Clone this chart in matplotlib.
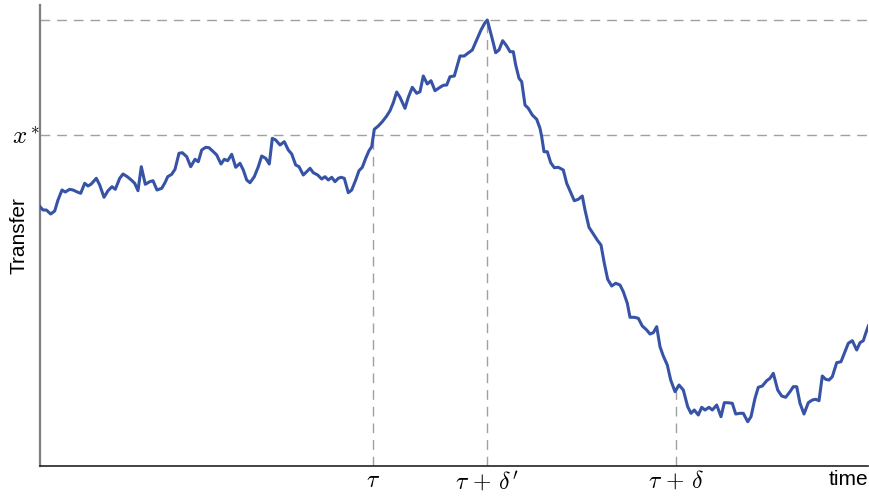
import numpy as np
import matplotlib
matplotlib.use("Agg")
import matplotlib.pyplot as plt

plt.rcParams["mathtext.fontset"] = "cm"
plt.rcParams["font.family"] = ["Liberation Sans", "DejaVu Sans"]

# time axis and transfer path
time = [0, 3, 6.3, 10.7, 14.7, 18, 22, 25.3, 29.7, 33,
        37.3, 40.7, 44.7, 48, 51.3, 56.3, 59.7, 64, 68, 72,
        75.3, 79.7, 83, 87.3, 91.3, 94.7, 98, 101.3, 105.3, 109.7,
        113, 117, 121.7, 125, 127.7, 131.7, 135, 139, 142.3, 146.7,
        150.7, 155, 158.3, 161.7, 165.7, 169, 172.3, 176.7, 181, 184.3,
        187.7, 191.7, 195.7, 200, 203.3, 206.7, 210, 214.3, 218.3, 221.7,
        225.7, 229.3, 232.3, 235.7, 240, 244.3, 248.3, 251.7, 255.7, 259,
        263.3, 266.7, 270, 273.3, 277.7, 281.7, 285, 288.3, 291.7, 295,
        298.3, 301, 304.3, 308.3, 311.7, 315.7, 319, 322.3, 325.7, 329,
        331.7, 334.3, 338.3, 342.3, 346.7, 350, 353.3, 356.7, 360, 365,
        368.3, 372.3, 376.7, 380, 383.3, 387.3, 391, 395, 400, 403.3,
        406.7, 410, 414.3, 420, 424.3, 427.7, 432.3, 436.7, 441, 445,
        447.3, 451.7, 455.7, 459, 462.7, 466.7, 470, 473.3, 475.7, 479,
        481.7, 485, 488.3, 492.3, 496.7, 500, 501.7, 504, 507.3, 510.7,
        514.3, 518.3, 523.3, 526.7, 531, 534.3, 538.3, 542.3, 545, 549,
        553.3, 557.7, 561, 564.3, 567.7, 571.7, 575.7, 580, 583.3, 587.3,
        590, 594.3, 598.3, 602.3, 606.7, 610, 613.3, 616.7, 620, 623.3,
        627.3, 630.7, 635, 639, 643.3, 647.7, 651, 654.3, 658.3, 661.7,
        665, 669, 672.3, 676.7, 681, 684.3, 687.7, 692.3, 695.7, 700,
        703.3, 707.7, 711, 715, 718.3, 722.3, 726.7, 730, 733.3, 737.7,
        741.7, 745.7, 750, 753.3, 756.7, 760, 764, 768.3, 772.3, 775.7,
        779, 782.3, 785.7, 789, 792.3, 796.7, 801, 804.3, 808.3, 812.3,
        816.7, 820, 823.3, 825.7, 828.3]

transfer = [259.3, 256, 256, 252, 255, 266, 276, 274, 276.7, 276,
            274, 272.7, 282.7, 280, 282, 287.7, 281, 268.7, 275.3, 279.3,
            276.7, 287.7, 292, 289.3, 286, 282.7, 275.3, 299.3, 281.7, 284.3,
            285.3, 276, 277.7, 283.3, 289.3, 291.7, 296.7, 312.7, 313.3, 309.3,
            299.3, 306.7, 304.3, 316, 318.7, 318.3, 315.3, 311, 302, 306.7,
            305.3, 311.7, 298.7, 302.7, 296, 286, 283.3, 289.3, 299.3, 310,
            307.7, 302, 327.7, 326, 321, 324.3, 316, 312, 301, 299.3,
            291, 294.3, 297.7, 293.3, 291, 287, 289.3, 286, 288.7, 284.3,
            287.7, 288.7, 287.7, 273.3, 276, 286, 295.3, 298.7, 307.7, 315.3,
            319.3, 336.7, 340, 344.3, 350, 355.3, 363.3, 374, 368.7, 357.7,
            368.7, 378.7, 372.7, 374.3, 390, 382, 385.3, 375.3, 378.7, 380.7,
            381, 389.3, 390, 410, 410, 412.7, 416, 426, 436, 443.3,
            446, 429.3, 413.3, 416, 425.3, 420, 414.3, 414.3, 401, 387.7,
            384.3, 361, 357.7, 351, 346.7, 337.7, 329.3, 314.3, 314.3, 303.3,
            298.3, 298.7, 296, 282.7, 272.7, 265.3, 266.7, 270, 256, 238.7,
            232, 225.3, 221, 202.7, 186.7, 180, 182.7, 181, 174.3, 162.7,
            148.7, 148.7, 147.7, 140, 136, 132, 133.3, 139.3, 119.3, 110,
            101, 86, 74.3, 81, 76, 59.3, 52.7, 56, 51, 58.7,
            56, 58.7, 56, 61, 49.3, 63.3, 63.3, 62.7, 52, 52.7,
            52.7, 44.3, 49.3, 67.7, 78.7, 80, 85.3, 87.7, 92.7, 76,
            70, 68.7, 74.3, 79.3, 79.3, 62.7, 52, 63.3, 66, 66.7,
            65.3, 90, 86.7, 86, 89.3, 103.3, 104.3, 112.7, 122.7, 125.3,
            116, 123.3, 125.3, 132.7, 140]

# reference levels and marked times
x_star = 331
x_peak = 446
marked_times = [333, 447.3, 636]
marked_labels = [r"$\tau$", r"$\tau\,+\,\delta'$", r"$\tau\,+\,\delta$"]

fig = plt.figure(figsize=(8.69, 4.96), dpi=100)
ax = fig.add_axes([40 / 869, 30 / 496, 828 / 869, 461 / 496])

ax.plot(time, transfer, color="#3753a5", lw=2.2, zorder=3, solid_joinstyle="round")

dash = dict(color="#a0a0a0", lw=1.0, dashes=(7, 5))
ax.axhline(x_peak, **dash, zorder=1)
ax.axhline(x_star, **dash, zorder=1)
for t in marked_times:
    top = np.interp(t, time, transfer)
    ax.plot([t, t], [0, top], **dash, zorder=1)

ax.set_xlim(0, 828)
ax.set_ylim(0, 461)
ax.set_xticks(marked_times)
ax.set_xticklabels(marked_labels, fontsize=17)
ax.set_yticks([x_star])
ax.set_yticklabels([r"$x^*$"], fontsize=18)
ax.tick_params(axis="x", length=0, pad=3)
ax.tick_params(axis="y", length=0, pad=0)

for side in ("top", "right"):
    ax.spines[side].set_visible(False)
ax.spines["left"].set_color("#7f7f7f")
ax.spines["left"].set_linewidth(1.6)
ax.spines["bottom"].set_color("#222222")
ax.spines["bottom"].set_linewidth(1.2)

ax.text(-21 / 828, 0.5, "Transfer", transform=ax.transAxes, rotation=90,
        ha="center", va="center", fontsize=15)
ax.text(1.0, -0.008, "time", transform=ax.transAxes, ha="right", va="top", fontsize=15)

fig.savefig("out.png", dpi=100)
